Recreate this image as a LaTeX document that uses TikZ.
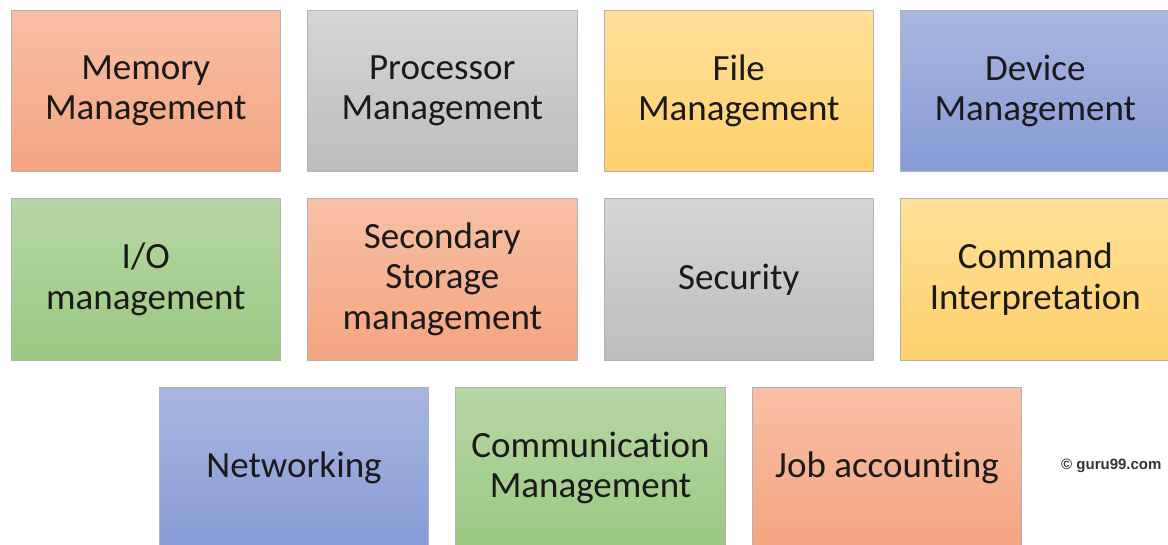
\documentclass[tikz,border=0pt]{standalone}
\usepackage{fontspec}
\setmainfont{Carlito}[Ligatures=NoCommon]
\newfontfamily\markfont{Liberation Sans}
\usetikzlibrary{positioning}
\definecolor{textColor}{RGB}{26,26,26}
\definecolor{edgeColor}{RGB}{178,178,178}
\definecolor{orangeTop}{RGB}{248,192,166}
\definecolor{orangeBot}{RGB}{244,164,128}
\definecolor{grayTop}{RGB}{214,214,214}
\definecolor{grayBot}{RGB}{189,189,189}
\definecolor{yellowTop}{RGB}{255,224,152}
\definecolor{yellowBot}{RGB}{255,208,108}
\definecolor{blueTop}{RGB}{168,183,226}
\definecolor{blueBot}{RGB}{134,154,212}
\definecolor{greenTop}{RGB}{182,215,165}
\definecolor{greenBot}{RGB}{155,200,130}

\begin{document}
\begin{tikzpicture}[x=1pt,y=1pt,textColor]
    \tikzstyle{task} = [rectangle,draw=edgeColor,line width=0.8pt,minimum width=269.5pt,minimum height=161.5pt,inner sep=0pt,outer sep=0pt,align=center,font=\fontsize{37}{40.5}\selectfont,node distance=27pt]
    \tikzstyle{orangebox} = [task,top color=orangeTop,bottom color=orangeBot]
    \tikzstyle{graybox} = [task,top color=grayTop,bottom color=grayBot]
    \tikzstyle{yellowbox} = [task,top color=yellowTop,bottom color=yellowBot]
    \tikzstyle{bluebox} = [task,top color=blueTop,bottom color=blueBot]
    \tikzstyle{greenbox} = [task,top color=greenTop,bottom color=greenBot]

    \useasboundingbox (0,0) rectangle (1168,-544);
    \clip (0,0) rectangle (1168,-544);

    % first row
    \node [orangebox, anchor=north west] (memory) at (11,-10) {Memory\\Management};
    \node [graybox, right=of memory] (processor) {Processor\\Management};
    \node [yellowbox, right=of processor] (file) {File\\Management};
    \node [bluebox, right=of file] (device) {Device\\Management};

    % second row
    \node [greenbox, below=of memory] (io) {I/O\\management};
    \node [orangebox, right=of io] (storage) {Secondary\\Storage\\management};
    \node [graybox, right=of storage] (security) {Security};
    \node [yellowbox, right=of security] (command) {Command\\Interpretation};

    % third row, shifted by half a box
    \node [bluebox, below=of io, xshift=148.25pt] (network) {Networking};
    \node [greenbox, right=of network] (comm) {Communication\\Management};
    \node [orangebox, right=of comm] (job) {Job accounting};

    \node [anchor=west, inner sep=0pt, font=\markfont\bfseries\fontsize{15}{17}\selectfont, text=black!80] (mark) at (1061,-466) {© guru99.com};
\end{tikzpicture}
\end{document}
